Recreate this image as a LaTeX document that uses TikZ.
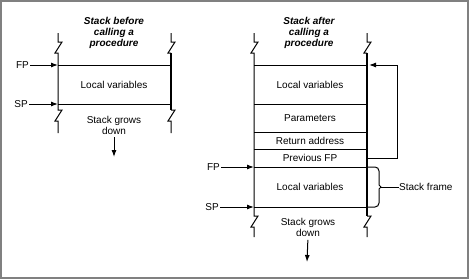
\documentclass[tikz,border=0pt]{standalone}
\usepackage{fontspec}
\setmainfont{Liberation Sans}
\usepackage{tikz}
\usetikzlibrary{arrows.meta,calc}

\begin{document}
\begin{tikzpicture}[x=1pt, y=-1pt,
  lbl/.style={font=\fontsize{10}{11}\selectfont, align=center, inner sep=0pt},
  ttl/.style={font=\fontsize{10}{11}\selectfont\bfseries\itshape, align=center, inner sep=0pt},
  ptr/.style={font=\fontsize{10}{11}\selectfont, anchor=east, inner sep=1pt},
  edge/.style={line width=1pt},
  wall/.style={line width=2.2pt},
  arr/.style={-{Latex[length=7pt,width=5pt]}, line width=1pt},
  frame/.style={draw=gray, line width=2pt}
]
  \useasboundingbox (0,0) rectangle (469,279);
  \draw[frame] (1,1) rectangle (468,278);

  % stack before the call
  \node[ttl] (titleA) at (114,33) {Stack before\\calling a\\procedure};
  \draw[edge] (58,33) -- (58,42) -- ++(4,0) -- ++(-7,11) -- ++(3,0) -- (58,110)
    -- ++(4,0) -- ++(-7,11) -- ++(3,0) -- (58,133);
  \draw[edge] (171,33) -- (171,42) -- ++(4,0) -- ++(-7,11) -- ++(3,0)
    (171,110) -- ++(4,0) -- ++(-7,11) -- ++(3,0) -- (171,133);
  \draw[wall] (171,53) -- (171,110);
  \draw[edge] (58,65) -- (171,65);
  \draw[edge] (58,104) -- (171,104);
  \node[lbl] (localA) at (114,84.5) {Local variables};

  \node[ptr] (fpA) at (30,65) {FP};
  \node[ptr] (spA) at (29,104) {SP};
  \coordinate (fpAtip) at (58,65);
  \coordinate (spAtip) at (58,104);
  \draw[arr] (fpA) -- (fpAtip);
  \draw[arr] (spA) -- (spAtip);

  \node[lbl] (growsA) at (114,125) {Stack grows\\down};
  \coordinate (downA) at (114,157);
  \draw[arr, shorten <=3pt] (growsA.south) -- (downA);

  % stack after the call
  \node[ttl] (titleB) at (309,33) {Stack after\\calling a\\procedure};
  \draw[edge] (254,33) -- (254,42) -- ++(4,0) -- ++(-7,11) -- ++(3,0) -- (254,216)
    -- ++(4,0) -- ++(-7,11) -- ++(3,0) -- (254,237);
  \draw[edge] (367,33) -- (367,42) -- ++(4,0) -- ++(-7,11) -- ++(3,0)
    (367,216) -- ++(4,0) -- ++(-7,11) -- ++(3,0) -- (367,237);
  \draw[wall] (367,53) -- (367,216);
  \draw[edge] (254,65) -- (367,65);
  \draw[edge] (254,104) -- (367,104);
  \draw[edge] (254,132) -- (367,132);
  \draw[edge] (254,149) -- (367,149);
  \draw[edge] (254,167) -- (367,167);
  \draw[edge] (254,207) -- (367,207);
  \node[lbl] (localB)  at (310,84.5) {Local variables};
  \node[lbl] (params)  at (310,118)  {Parameters};
  \node[lbl] (retaddr) at (310,141)  {Return address};
  \node[lbl] (prevfp)  at (310,158)  {Previous FP};
  \node[lbl] (localC)  at (310,187)  {Local variables};

  \node[ptr] (fpB) at (221,167) {FP};
  \node[ptr] (spB) at (220,207) {SP};
  \coordinate (fpBtip) at (254,167);
  \coordinate (spBtip) at (254,207);
  \draw[arr] (fpB) -- (fpBtip);
  \draw[arr] (spB) -- (spBtip);

  \coordinate (prevOut) at (367,158);
  \coordinate (localIn) at (369,65);
  \draw[arr] (prevOut) -- ++(30,0) |- (localIn);

  \draw[edge] (368,167) -- (375,167) to[out=0,in=90] (379,171) -- (379,185)
    -- (381,187) -- (379,189) -- (379,203) to[out=-90,in=0] (375,207) -- (368,207);
  \coordinate (braceTip) at (381,187);
  \node[lbl, anchor=west] (frameLbl) at (399,187) {Stack frame};
  \draw[edge] (braceTip) -- (frameLbl);

  \node[lbl] (growsB) at (308,227.5) {Stack grows\\down};
  \coordinate (downB) at (307,262);
  \draw[arr, shorten <=3pt] (growsB.south) -- (downB);
\end{tikzpicture}
\end{document}
